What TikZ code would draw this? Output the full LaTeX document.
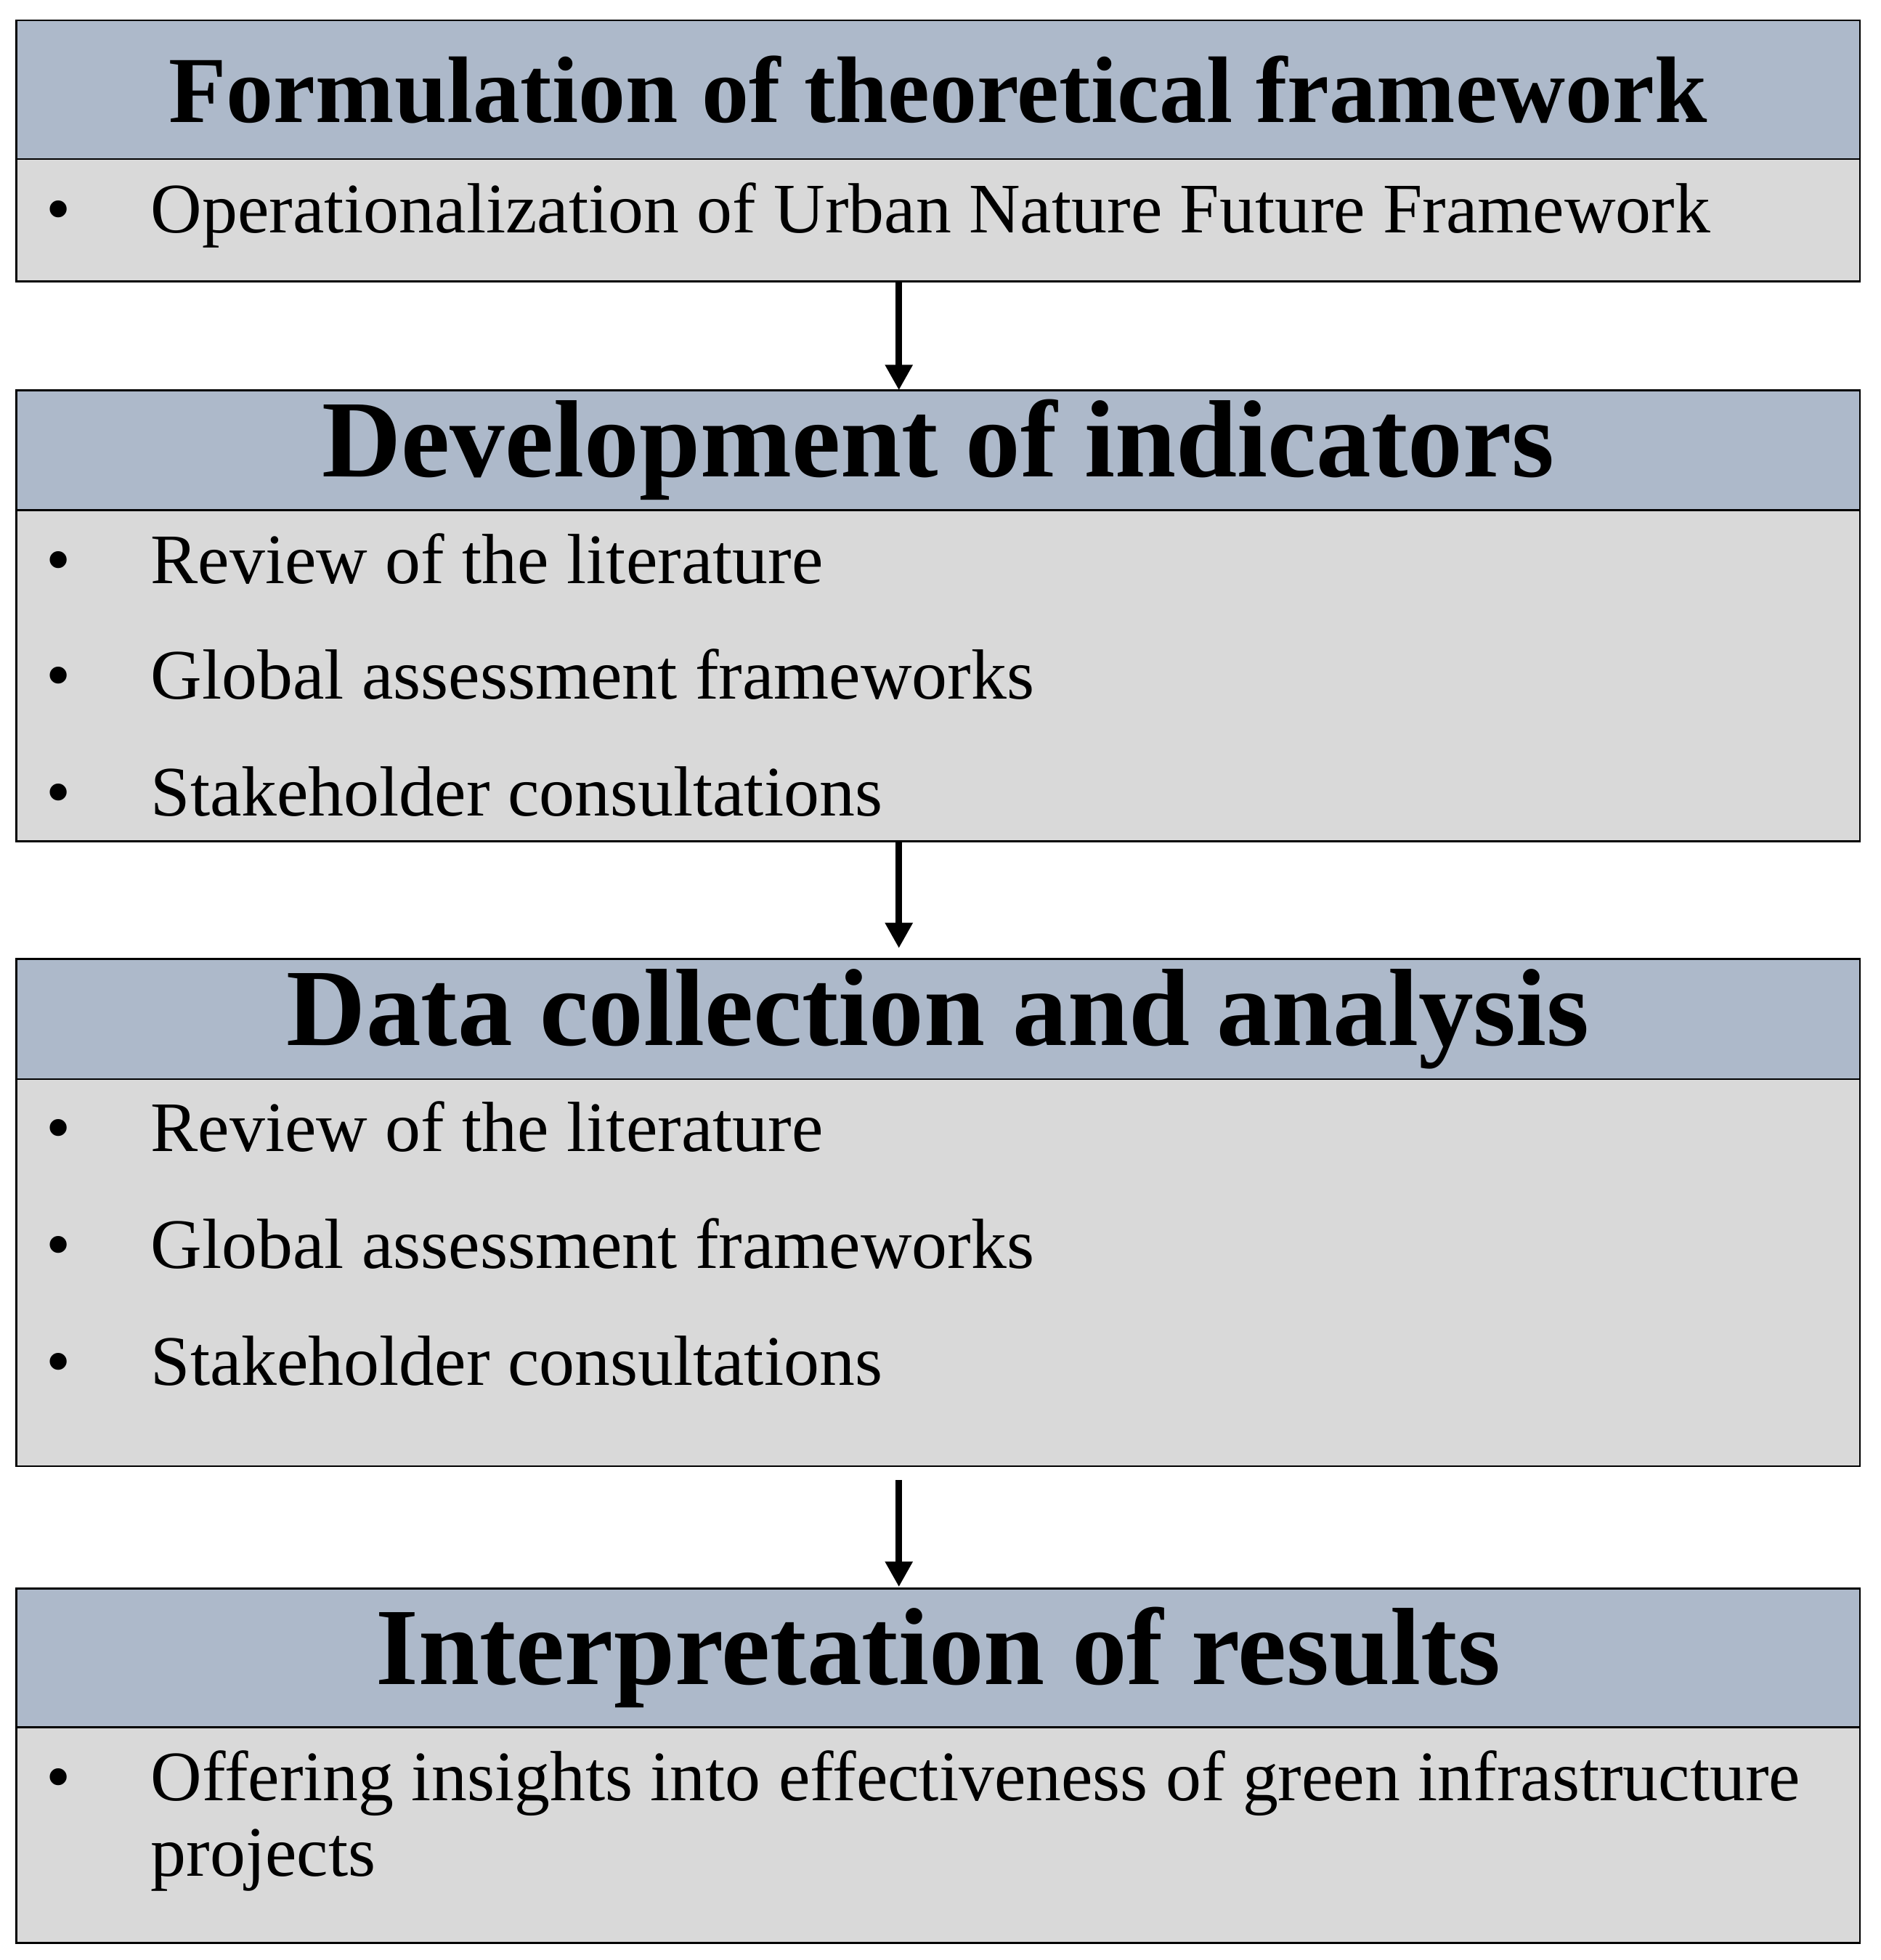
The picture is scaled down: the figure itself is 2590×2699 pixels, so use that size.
\documentclass[tikz,border=0pt]{standalone}
\usepackage{fontspec}
\setmainfont{Liberation Serif}
\usetikzlibrary{positioning,arrows.meta}
\definecolor{headblue}{HTML}{ADB9CA}
\definecolor{bodygray}{HTML}{D9D9D9}

\begin{document}
\begin{tikzpicture}[x=0.01cm, y=-0.01cm,
	head/.style={draw, fill=headblue, line width=0.75pt, anchor=north west, outer sep=0, inner sep=0, minimum width=25.37cm, font=\bfseries\fontsize{43}{45}\selectfont},
	body/.style={draw, fill=bodygray, line width=0.75pt, outer sep=0, inner sep=0, minimum width=25.37cm},
	item/.style={anchor=base west, inner sep=0, font=\fontsize{27.8}{30}\selectfont},
	flow/.style={line width=2.5pt, -{Triangle[length=0.35cm, width=0.36cm]}}]
	\useasboundingbox (0,0) rectangle (2590,2699);
	
	\node[head, minimum height=1.91cm, font=\bfseries\fontsize{37}{40}\selectfont] (h1) at (22.5,28) {Formulation of theoretical framework};
	\node[body, minimum height=1.68cm, below=0pt of h1] (b1) {};
	
	\node[head, minimum height=1.65cm, below=1.5cm of b1] (h2) {Development of indicators};
	\node[body, minimum height=4.56cm, below=0pt of h2] (b2) {};
	
	\node[head, minimum height=1.65cm, below=1.62cm of b2] (h3) {Data collection and analysis};
	\node[body, minimum height=5.33cm, below=0pt of h3] (b3) {};
	
	\node[head, minimum height=1.91cm, below=1.68cm of b3] (h4) {Interpretation of results};
	\node[body, minimum height=2.97cm, below=0pt of h4] (b4) {};
	
	\node[item] (i1) at (63,320) {\makebox[1.44cm][l]{\textbullet}Operationalization of Urban Nature Future Framework};
	
	\node[item] (i21) at (63,803) {\makebox[1.44cm][l]{\textbullet}Review of the literature};
	\node[item] (i22) at (63,962) {\makebox[1.44cm][l]{\textbullet}Global assessment frameworks};
	\node[item] (i23) at (63,1123) {\makebox[1.44cm][l]{\textbullet}Stakeholder consultations};
	
	\node[item] (i31) at (63,1585) {\makebox[1.44cm][l]{\textbullet}Review of the literature};
	\node[item] (i32) at (63,1746) {\makebox[1.44cm][l]{\textbullet}Global assessment frameworks};
	\node[item] (i33) at (63,1907) {\makebox[1.44cm][l]{\textbullet}Stakeholder consultations};
	
	\node[item] (i41) at (63,2479) {\makebox[1.44cm][l]{\textbullet}Offering insights into effectiveness of green infrastructure};
	\node[item] (i42) at (207,2583) {projects};
	
	\draw[flow] ([xshift=-0.54cm]b1.south) -- ([xshift=-0.54cm]h2.north);
	\draw[flow, shorten >=0.15cm] ([xshift=-0.54cm]b2.south) -- ([xshift=-0.54cm]h3.north);
	\draw[flow, shorten <=0.19cm, shorten >=0.02cm] ([xshift=-0.54cm]b3.south) -- ([xshift=-0.54cm]h4.north);
\end{tikzpicture}
\end{document}
